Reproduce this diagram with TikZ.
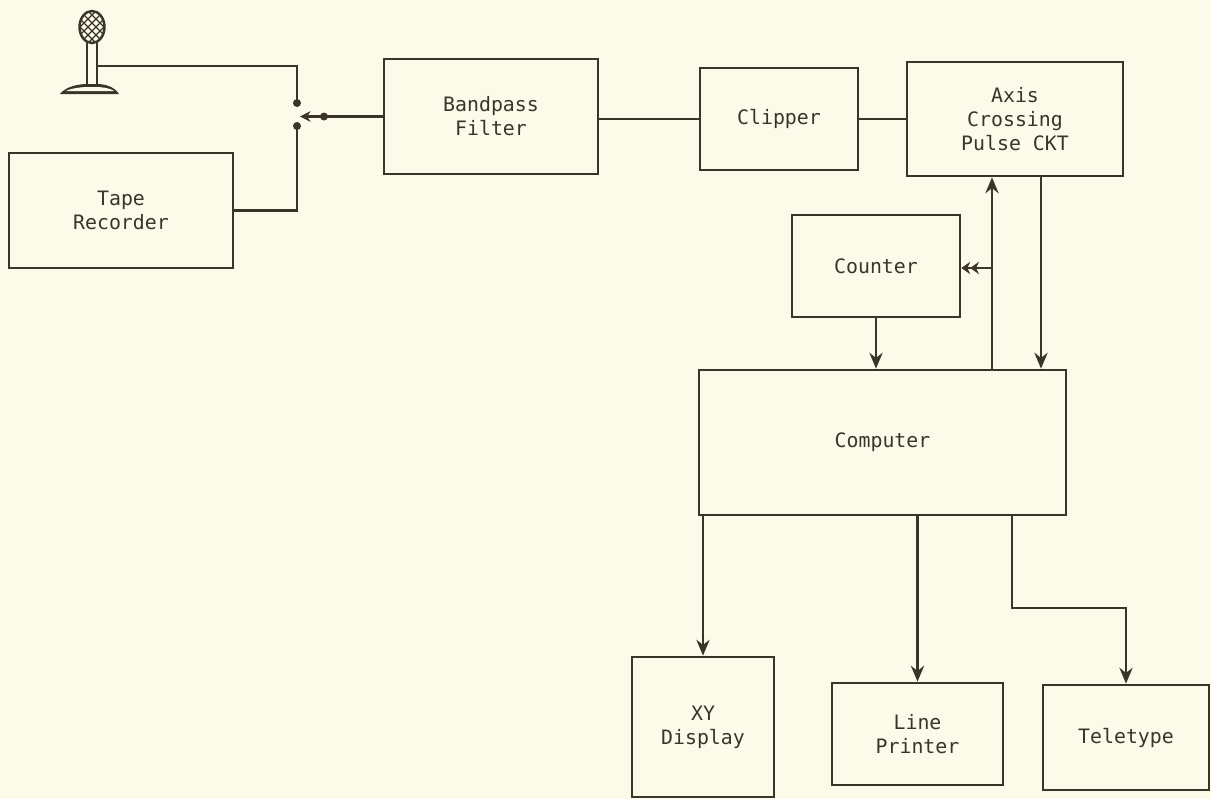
\documentclass[tikz,border=0pt]{standalone}
\usepackage{fontspec}
\setmonofont{DejaVu Sans Mono}
\usetikzlibrary{arrows.meta}
\definecolor{paper}{HTML}{FCFBEA}
\definecolor{ink}{HTML}{3A3528}

\begin{document}
\begin{tikzpicture}[x=0.02cm,y=-0.02cm,
  block/.style={draw=ink,line width=1.6pt,align=center,inner sep=0pt,text=ink,
    font=\ttfamily\fontsize{11.3}{13.6}\selectfont},
  wire/.style={draw=ink,line width=1.5pt},
  arr/.style={wire,-{Stealth[length=9pt,width=7.5pt]}}]
  \path[use as bounding box,fill=paper] (0,0) rectangle (1211,799);
  \clip (0,0) rectangle (1211,799);

  % microphone
  \begin{scope}
    \clip (92,27) ellipse[x radius=0.25cm,y radius=0.32cm];
    \foreach \i in {-36,-28,...,36} {
      \draw[ink,line width=0.7pt] (92+\i-20,7) -- (92+\i+20,47);
      \draw[ink,line width=0.7pt] (92+\i+20,7) -- (92+\i-20,47);
    }
  \end{scope}
  \draw[ink,line width=1.4pt] (92,27) ellipse[x radius=0.25cm,y radius=0.32cm];
  \draw[ink,line width=1.4pt] (87,43) -- (87,84) (97,43) -- (97,84);
  \fill[ink] (60,94) .. controls (66,86) and (80,84) .. (87,84) -- (97,84)
    .. controls (104,84) and (114,86) .. (119,94) -- cycle;
  \fill[paper] (66,91) .. controls (72,88) and (82,87) .. (89,87) -- (95,87)
    .. controls (102,87) and (110,88) .. (114,91) -- cycle;

  \node[block,minimum width=4.48cm,minimum height=2.3cm] (tape) at (121,210.5) {Tape\\Recorder};
  \node[block,minimum width=4.28cm,minimum height=2.3cm] (bandpass) at (491,116.5) {Bandpass\\Filter};
  \node[block,minimum width=3.16cm,minimum height=2.04cm] (clipper) at (779,119) {Clipper};
  \node[block,minimum width=4.32cm,minimum height=2.28cm] (axis) at (1015,119) {Axis\\Crossing\\Pulse CKT};
  \node[block,minimum width=3.36cm,minimum height=2.04cm] (counter) at (876,266) {Counter};
  \node[block,minimum width=7.34cm,minimum height=2.9cm] (computer) at (882.5,442.5) {Computer};
  \node[block,minimum width=2.84cm,minimum height=2.8cm] (xy) at (703,727) {XY\\Display};
  \node[block,minimum width=3.42cm,minimum height=2.04cm] (printer) at (917.5,734) {Line\\Printer};
  \node[block,minimum width=3.32cm,minimum height=2.1cm] (teletype) at (1126,737.5) {Teletype};

  % input switch
  \coordinate (micout) at (97,66);
  \coordinate (swa) at (297,103);
  \coordinate (swb) at (297,126);
  \coordinate (swin) at (324,116.5);
  \coordinate (swtip) at (300,116.5);
  \draw[wire] (micout) -| (swa);
  \draw[wire] (tape.east) -| (swb);
  \draw[wire] (swin) -- (bandpass.west |- swin);
  \draw[wire,-{Stealth[length=6pt,width=6pt]}] (swin) -- (swtip);
  \foreach \c in {swa,swb,swin} \fill[ink] (\c) circle[radius=0.08cm];

  \draw[wire] (clipper.west -| bandpass.east) -- (clipper.west);
  \draw[wire] (clipper.east) -- (axis.west);

  \coordinate (br) at (992,268);
  \coordinate (dn) at (1041,300);
  \draw[arr] (computer.north -| br) -- (axis.south -| br);
  \draw[wire,-{Stealth[length=5pt,width=7pt]Stealth[length=5pt,width=7pt]}] (br) -- (counter.east |- br);
  \draw[arr] (axis.south -| dn) -- (computer.north -| dn);
  \draw[arr] (counter.south) -- (counter.south |- computer.north);

  \coordinate (tt) at (1012,608);
  \draw[arr] (computer.south -| xy.north) -- (xy.north);
  \draw[arr] (computer.south -| printer.north) -- (printer.north);
  \draw[arr] (computer.south -| tt) -- (tt) -| (teletype.north);
\end{tikzpicture}
\end{document}
